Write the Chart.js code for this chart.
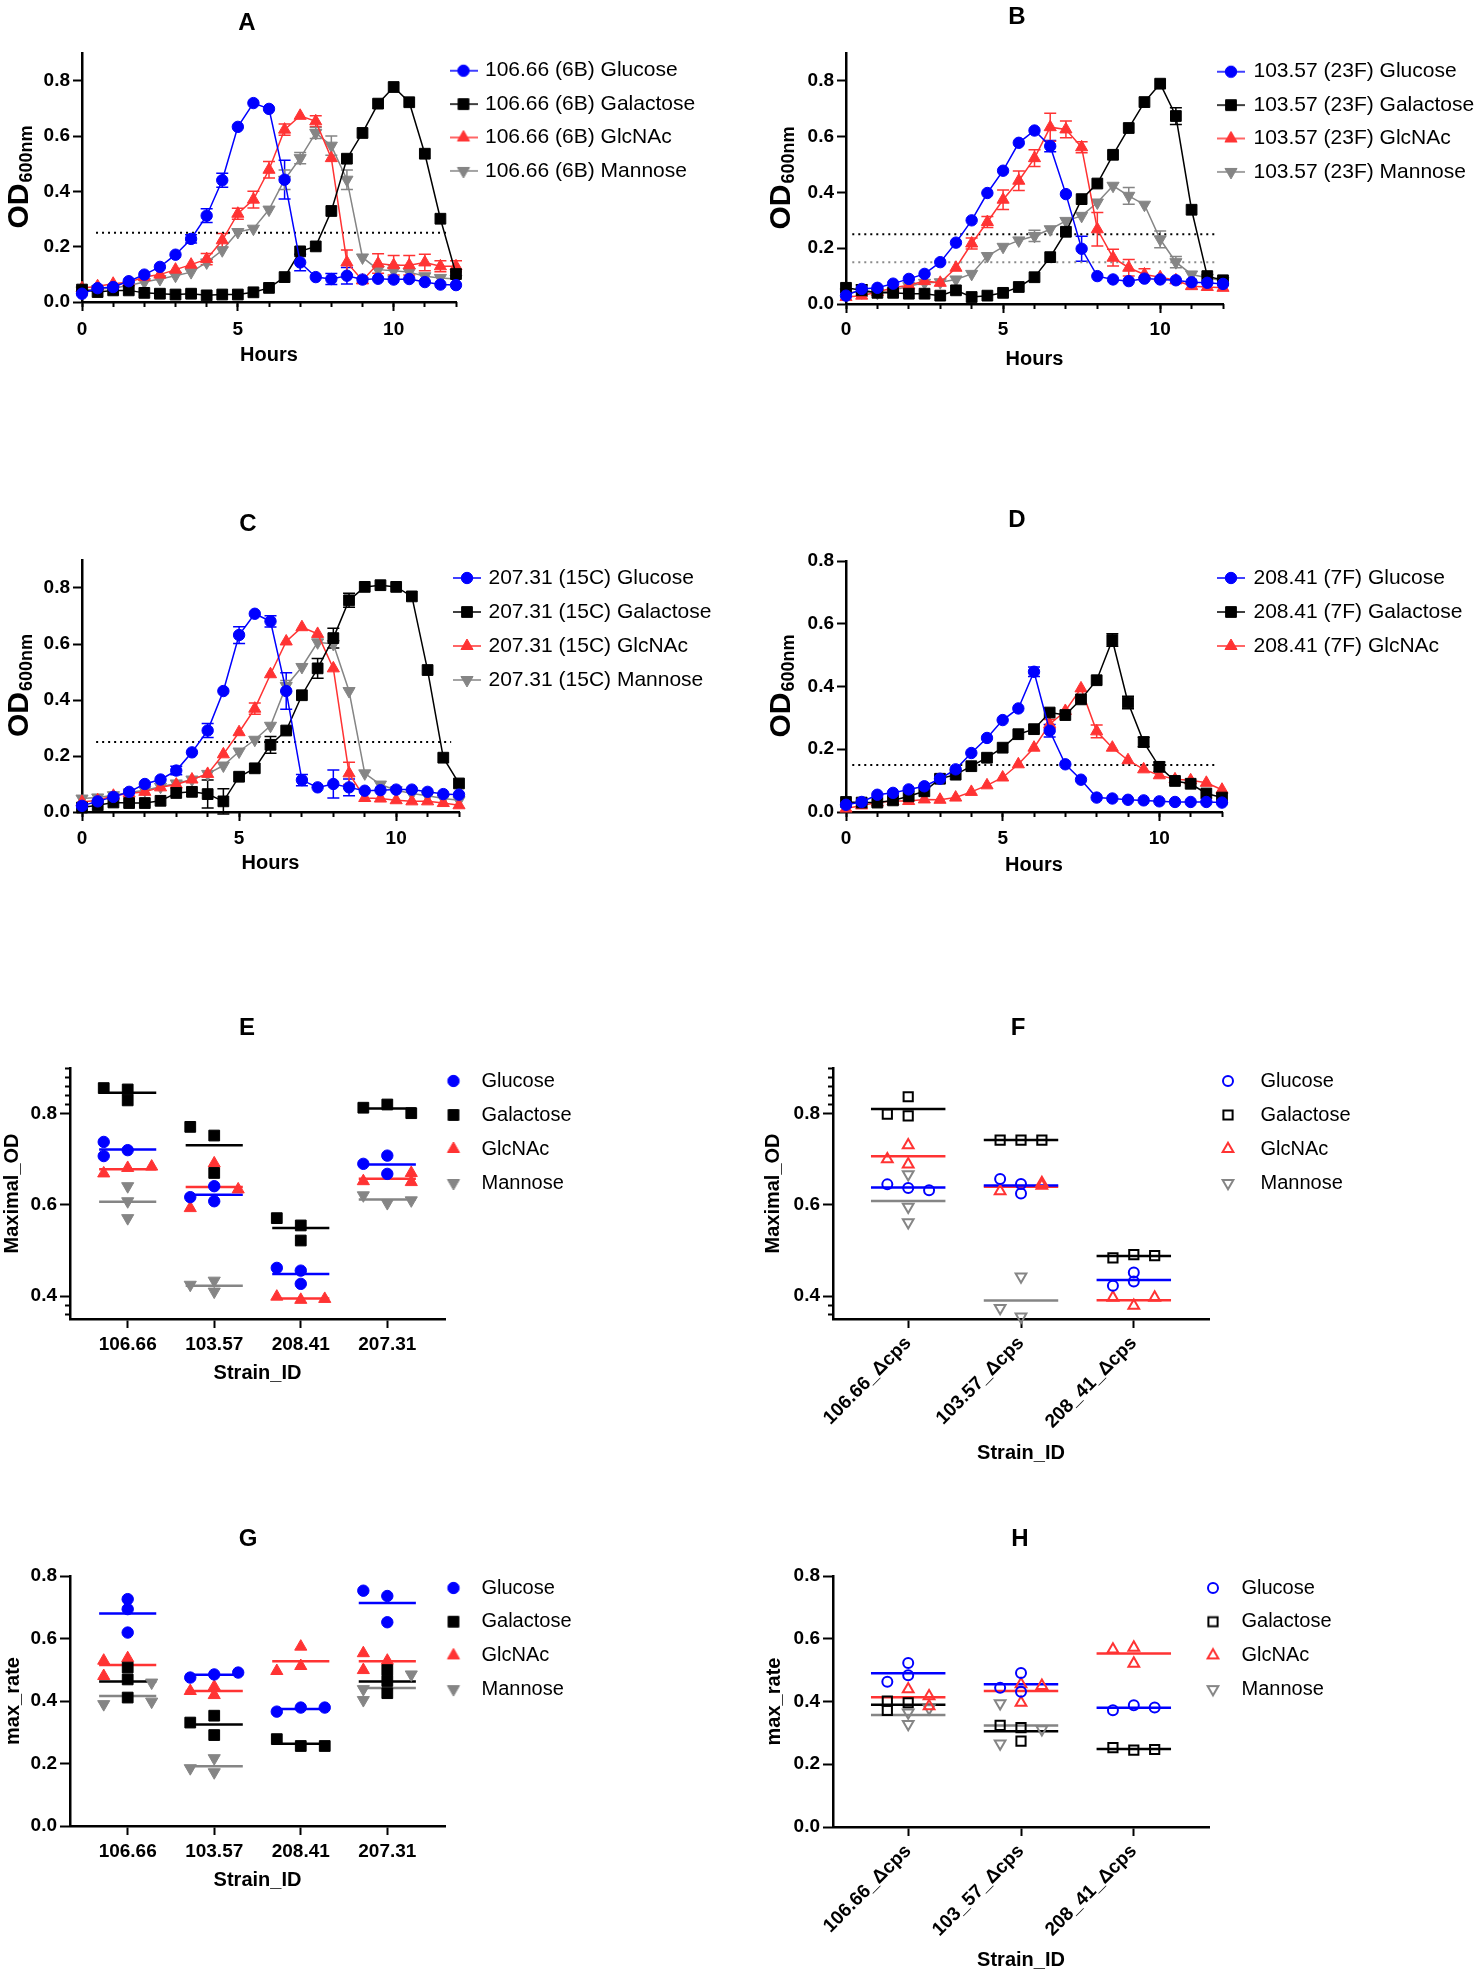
<!DOCTYPE html>
<html>
<head>
<meta charset="utf-8">
<title>Growth of strains on four sugars</title>
<script src="https://cdn.jsdelivr.net/npm/chart.js@4.4.1/dist/chart.umd.min.js"></script>
<style>
  html, body { margin:0; padding:0; background:#ffffff; }
  #page { position:relative; width:1476px; height:1975px; background:#ffffff; overflow:hidden; }
  #page canvas { position:absolute; }
  .panel-letter { position:absolute; font-family:"Liberation Sans", Arial, Helvetica, sans-serif; font-weight:bold; font-size:24px; color:#000; line-height:1; transform:translate(-50%,-50%); }
</style>
</head>
<body>
<div id="page"></div>
<script>
// ===================== DATA =====================
const hours = [0,0.5,1,1.5,2,2.5,3,3.5,4,4.5,5,5.5,6,6.5,7,7.5,8,8.5,9,9.5,10,10.5,11,11.5,12];
const sugarNames = ['Glucose','Galactose','GlcNAc','Mannose'];
const odLabel = ['OD','600nm'];
const hourMajorTicks = [0,5,10];
const hourMinorTicks = [0,1,2,3,4,5,6,7,8,9,10,11,12];
const odTicks = [0,0.2,0.4,0.6,0.8];

// Panel A
const strainA = '106.66 (6B)';
const A_glucose   = [0.030,0.050,0.054,0.075,0.099,0.127,0.171,0.228,0.312,0.440,0.633,0.719,0.698,0.442,0.143,0.090,0.083,0.095,0.081,0.084,0.081,0.083,0.072,0.063,0.061];
const A_galactose = [0.045,0.036,0.042,0.042,0.033,0.030,0.027,0.030,0.024,0.027,0.027,0.035,0.051,0.090,0.183,0.201,0.329,0.518,0.611,0.717,0.777,0.722,0.536,0.301,0.101];
const A_glcnac    = [0.050,0.057,0.066,0.071,0.090,0.099,0.117,0.135,0.155,0.223,0.319,0.370,0.478,0.623,0.673,0.653,0.520,0.143,0.078,0.139,0.133,0.133,0.143,0.129,0.129];
const A_mannose   = [0.042,0.047,0.050,0.060,0.072,0.083,0.095,0.108,0.143,0.187,0.253,0.265,0.334,0.442,0.520,0.611,0.565,0.442,0.161,0.117,0.113,0.108,0.093,0.087,0.083];
const A_glucose_err   = [0,0,0,0,0,0,0,0.015,0.025,0.025,0,0,0,0.07,0.03,0,0.02,0.03,0,0,0,0,0,0,0];
const A_galactose_err = [0,0,0,0,0,0,0,0,0,0,0,0,0,0,0,0,0,0,0,0,0,0,0,0,0];
const A_glcnac_err    = [0,0,0,0,0,0,0,0,0.02,0.025,0.02,0.03,0.03,0.02,0,0.02,0,0.045,0.01,0.035,0.035,0.035,0.03,0.02,0.02];
const A_mannose_err   = [0,0,0,0,0,0,0,0,0,0,0,0,0,0.035,0.02,0.02,0.035,0.035,0,0,0.02,0,0,0,0];
const A_thresholds = [0.25];
const A_thresholdSpan = [0.45, 11.75];

// Panel B
const strainB = '103.57 (23F)';
const B_glucose   = [0.030,0.054,0.058,0.073,0.090,0.108,0.150,0.220,0.300,0.398,0.478,0.578,0.622,0.566,0.394,0.198,0.100,0.088,0.082,0.091,0.088,0.085,0.078,0.076,0.072];
const B_galactose = [0.058,0.049,0.040,0.040,0.037,0.037,0.030,0.049,0.025,0.030,0.040,0.061,0.096,0.168,0.259,0.376,0.432,0.535,0.631,0.724,0.790,0.674,0.338,0.100,0.085];
const B_glcnac    = [0.025,0.030,0.043,0.058,0.067,0.082,0.076,0.130,0.217,0.294,0.374,0.442,0.523,0.634,0.626,0.562,0.268,0.166,0.130,0.106,0.096,0.085,0.064,0.061,0.058];
const B_mannose   = [0.042,0.042,0.040,0.049,0.064,0.076,0.078,0.088,0.108,0.172,0.205,0.228,0.244,0.268,0.298,0.316,0.364,0.424,0.388,0.356,0.232,0.150,0.106,0.094,0.082];
const B_glucose_err   = [0,0,0,0,0,0,0,0,0,0,0,0,0,0.02,0,0.045,0,0,0,0,0,0,0,0,0];
const B_galactose_err = [0,0.02,0,0,0,0,0,0,0,0,0,0,0,0,0,0,0,0,0,0,0,0.03,0,0,0];
const B_glcnac_err    = [0,0,0,0,0,0,0,0,0.02,0.02,0.035,0.035,0.03,0.05,0.03,0.02,0.06,0.03,0.03,0.02,0,0,0.01,0,0];
const B_mannose_err   = [0,0,0,0,0,0,0,0,0,0,0,0,0.02,0,0,0,0,0,0.03,0,0.03,0.02,0,0,0];
const B_thresholds = [0.25, 0.15];
const B_thresholdSpan = [0.2, 11.85];

// Panel C
const strainC = '207.31 (15C)';
const C_glucose   = [0.022,0.038,0.054,0.072,0.100,0.116,0.148,0.213,0.291,0.432,0.632,0.708,0.681,0.432,0.114,0.088,0.100,0.088,0.076,0.078,0.080,0.080,0.072,0.064,0.062];
const C_galactose = [0.016,0.024,0.034,0.032,0.032,0.040,0.068,0.072,0.064,0.038,0.126,0.156,0.240,0.291,0.417,0.513,0.621,0.756,0.804,0.810,0.804,0.770,0.507,0.194,0.102];
const C_glcnac    = [0.036,0.042,0.058,0.066,0.072,0.088,0.098,0.116,0.136,0.206,0.285,0.369,0.492,0.609,0.660,0.636,0.513,0.138,0.050,0.048,0.042,0.038,0.038,0.032,0.024];
const C_mannose   = [0.048,0.052,0.060,0.070,0.078,0.090,0.102,0.116,0.136,0.166,0.216,0.258,0.308,0.450,0.518,0.606,0.600,0.432,0.138,0.098,0.078,0.066,0.058,0.048,0.042];
const C_glucose_err   = [0,0,0,0,0,0,0.015,0,0.025,0,0.03,0,0.02,0.065,0.02,0,0.05,0.03,0,0,0,0,0,0,0];
const C_galactose_err = [0,0,0,0,0,0,0,0,0.05,0.045,0,0,0.03,0,0,0.035,0.035,0.025,0,0,0,0,0,0,0];
const C_glcnac_err    = [0,0,0,0,0,0,0,0,0,0,0,0.02,0,0,0,0,0,0.04,0,0,0,0,0,0,0];
const C_mannose_err   = [0,0,0,0,0,0,0,0,0,0,0,0,0,0.02,0,0,0,0,0,0,0,0,0,0,0];
const C_thresholds = [0.25];
const C_thresholdSpan = [0.45, 11.75];

// Panel D
const strainD = '208.41 (7F)';
const D_glucose   = [0.023,0.032,0.055,0.061,0.072,0.082,0.106,0.136,0.188,0.236,0.293,0.330,0.447,0.259,0.152,0.103,0.046,0.043,0.039,0.037,0.034,0.032,0.032,0.032,0.030];
const D_galactose = [0.032,0.030,0.030,0.037,0.050,0.066,0.106,0.119,0.146,0.173,0.205,0.248,0.264,0.317,0.309,0.359,0.420,0.548,0.349,0.223,0.144,0.099,0.090,0.059,0.046];
const D_glcnac    = [0.011,0.021,0.030,0.035,0.035,0.040,0.039,0.046,0.064,0.085,0.110,0.152,0.205,0.280,0.322,0.394,0.257,0.205,0.165,0.136,0.117,0.104,0.101,0.093,0.071];
const D_glucose_err   = [0,0,0,0,0,0,0,0,0,0,0,0,0.015,0.02,0,0,0,0,0,0,0,0,0,0,0];
const D_galactose_err = [0,0,0,0,0,0,0,0,0,0,0,0,0,0,0,0,0,0.02,0.02,0.015,0.015,0,0,0,0];
const D_glcnac_err    = [0,0,0,0,0,0,0,0,0,0,0,0,0,0.015,0,0,0.02,0,0,0,0,0,0,0,0];
const D_thresholds = [0.15];
const D_thresholdSpan = [0.2, 11.85];

// Panel E (Maximal_OD, wild type)
const strainsE = ['106.66','103.57','208.41','207.31'];
const E_glucose   = [[0.720,0.738,0.707],[0.608,0.641,0.617],[0.456,0.462,0.427],[0.708,0.668,0.690]];
const E_galactose = [[0.853,0.829,0.856],[0.752,0.771,0.670],[0.555,0.571,0.522],[0.820,0.813,0.801]];
const E_glcnac    = [[0.681,0.669,0.684],[0.593,0.634,0.691],[0.392,0.399,0.394],[0.670,0.652,0.650]];
const E_mannose   = [[0.641,0.608,0.571],[0.410,0.434,0.425],[],[0.604,0.621,0.610]];

// Panel F (Maximal_OD, Δcps)
const strainsF = ['106.66_Δcps','103.57_Δcps','208_41_Δcps'];
const F_glucose   = [[0.637,0.645,0.632],[0.646,0.657,0.625],[0.432,0.452,0.423]];
const F_galactose = [[0.837,0.795,0.799],[0.742,0.742,0.742],[0.491,0.484,0.489]];
const F_glcnac    = [[0.731,0.689,0.700],[0.630,0.648,0.642],[0.379,0.397,0.397]];
const F_mannose   = [[0.667,0.596,0.562],[0.443,0.355,0.374],[]];

// Panel G (max_rate, wild type)
const strainsG = ['106.66','103.57','208.41','207.31'];
const G_glucose   = [[0.726,0.694,0.619],[0.485,0.475,0.491],[0.379,0.366,0.379],[0.736,0.753,0.652]];
const G_galactose = [[0.507,0.469,0.411],[0.353,0.291,0.331],[0.256,0.278,0.256],[0.499,0.464,0.425]];
const G_glcnac    = [[0.529,0.537,0.480],[0.446,0.419,0.432],[0.512,0.574,0.496],[0.529,0.553,0.499]];
const G_mannose   = [[0.390,0.459,0.398],[0.172,0.217,0.185],[],[0.485,0.438,0.403]];

// Panel H (max_rate, Δcps)
const strainsH = ['106.66_Δcps','103_57_Δcps','208_41_Δcps'];
const H_glucose   = [[0.484,0.523,0.463],[0.491,0.431,0.444],[0.388,0.372,0.381]];
const H_galactose = [[0.396,0.372,0.401],[0.317,0.324,0.274],[0.245,0.253,0.247]];
const H_glcnac    = [[0.417,0.439,0.385],[0.450,0.455,0.396],[0.572,0.566,0.521]];
const H_mannose   = [[0.328,0.365,0.378],[0.266,0.394,0.311],[]];

const scatterMajorEF = [0.4,0.6,0.8];
const scatterMinorEF = [0.36,0.38,0.82,0.84,0.86,0.88,0.9];
const scatterMajorGH = [0,0.2,0.4,0.6,0.8];

// ===================== STYLE =====================
const FONT = '"Liberation Sans", Arial, Helvetica, sans-serif';
Chart.defaults.font.family = FONT;
Chart.defaults.color = '#000000';
const COLORS = ['#0000FF', '#000000', '#FF3333', '#858585'];
const SHAPES = ['circle', 'rect', 'triangle', 'triangle'];
const ROTS = [0, 0, 0, 180];
const SOLID_R = [5.7, 7.6, 7, 7];
const OPEN_R = [5, 6.5, 6.2, 6.2];
const TICK_FONT = { family: FONT, size: 19, weight: 'bold', lineHeight: 1.2 };
const TITLE_FONT = { family: FONT, size: 20, weight: 'bold', lineHeight: 1.2 };

function markerCanvas(i, open, withLine) {
  const w = withLine ? 28 : 18, h = 18;
  const c = document.createElement('canvas');
  c.width = w; c.height = h;
  const g = c.getContext('2d');
  if (withLine) {
    g.strokeStyle = COLORS[i]; g.lineWidth = 1.5;
    g.beginPath(); g.moveTo(0, h / 2); g.lineTo(w, h / 2); g.stroke();
  }
  g.fillStyle = open ? 'rgba(0,0,0,0)' : COLORS[i];
  g.strokeStyle = COLORS[i];
  g.lineWidth = open ? 2 : 1;
  Chart.helpers.drawPoint(g, { pointStyle: SHAPES[i], radius: open ? OPEN_R[i] : SOLID_R[i], rotation: ROTS[i], borderWidth: g.lineWidth }, w / 2, h / 2);
  return c;
}

function makeCanvas(box) {
  const c = document.createElement('canvas');
  c.width = box.w; c.height = box.h;
  c.style.left = box.x + 'px'; c.style.top = box.y + 'px';
  c.style.width = box.w + 'px'; c.style.height = box.h + 'px';
  document.getElementById('page').appendChild(c);
  return c;
}

function tickGrid(len) {
  return { display: true, drawOnChartArea: false, drawTicks: true, tickLength: len, tickWidth: 2, tickColor: '#000' };
}
function axisBorder() { return { display: true, color: '#000', width: 2.5 }; }

// ===================== PLUGINS =====================
const errorBars = {
  id: 'errorBars',
  beforeDatasetsDraw(chart) {
    const ctx = chart.ctx;
    chart.data.datasets.forEach((ds, i) => {
      if (!ds.errors) return;
      const meta = chart.getDatasetMeta(i);
      const ys = chart.scales[meta.yAxisID];
      ctx.save();
      ctx.strokeStyle = ds.borderColor; ctx.lineWidth = 1.5;
      meta.data.forEach((el, j) => {
        const e = ds.errors[j];
        if (!e) return;
        const v = ds.data[j].y;
        const yt = ys.getPixelForValue(v + e), yb = ys.getPixelForValue(v - e);
        ctx.beginPath();
        ctx.moveTo(el.x, yt); ctx.lineTo(el.x, yb);
        ctx.moveTo(el.x - 6, yt); ctx.lineTo(el.x + 6, yt);
        ctx.moveTo(el.x - 6, yb); ctx.lineTo(el.x + 6, yb);
        ctx.stroke();
      });
      ctx.restore();
    });
  }
};

const odTitle = {
  id: 'odTitle',
  afterDraw(chart, args, opts) {
    if (opts.baseline === undefined) return;
    const { ctx, chartArea } = chart;
    const cy = (chartArea.top + chartArea.bottom) / 2;
    ctx.save();
    ctx.translate(opts.baseline, cy);
    ctx.rotate(-Math.PI / 2);
    ctx.fillStyle = '#000'; ctx.textAlign = 'left'; ctx.textBaseline = 'alphabetic';
    const big = 'bold 30px ' + FONT, small = 'bold 18px ' + FONT;
    ctx.font = big; const w1 = ctx.measureText(opts.main).width;
    ctx.font = small; const w2 = ctx.measureText(opts.sub).width;
    const x0 = -(w1 + w2) / 2;
    ctx.font = big; ctx.fillText(opts.main, x0, 0);
    ctx.font = small; ctx.fillText(opts.sub, x0 + w1 + 1, 4);
    ctx.restore();
  }
};

const legendPlace = {
  id: 'legendPlace',
  beforeDraw(chart, args, opts) {
    const lg = chart.legend;
    if (!lg || opts.left === undefined) return;
    lg.left = opts.left; lg.top = opts.top;
    lg.right = chart.width; lg.bottom = chart.height;
    lg.width = lg.right - lg.left; lg.height = lg.bottom - lg.top;
  }
};
Chart.register(errorBars, odTitle, legendPlace);

function legendOptions(leg, open, withLine) {
  return {
    display: true, position: 'chartArea', align: 'start',
    labels: {
      usePointStyle: true, pointStyleWidth: leg.w, padding: leg.gap - leg.fs, color: '#000',
      font: { family: FONT, size: leg.fs, weight: 'normal', lineHeight: 1.2 },
      generateLabels: chart => chart.data.datasets
        .map((d, idx) => ({ d, idx }))
        .filter(o => o.d.sugar !== undefined && !o.d.isMean)
        .map(o => ({
          text: o.d.label, pointStyle: markerCanvas(o.d.sugar, open, withLine),
          fillStyle: COLORS[o.d.sugar], strokeStyle: COLORS[o.d.sugar], fontColor: '#000',
          lineWidth: 0, hidden: false, rotation: 0, textAlign: 'left', datasetIndex: o.idx
        }))
    }
  };
}
function legendPosition(leg, box) {
  const pad = leg.gap - leg.fs;
  return { left: leg.cx - pad - leg.w / 2 - box.x, top: leg.row0 - pad - leg.fs / 2 - box.y };
}

// ===================== GROWTH CURVES (A-D) =====================
function growthChart(p) {
  const { box, area } = p;
  const cv = makeCanvas(box);
  const datasets = p.series.map((vals, i) => ({
    label: p.strain + ' ' + sugarNames[i], sugar: i, xAxisID: 'x', yAxisID: 'y',
    data: hours.map((h, j) => ({ x: h, y: vals[j] })),
    errors: p.errs[i],
    borderColor: COLORS[i], backgroundColor: COLORS[i], borderWidth: 1.5,
    pointStyle: SHAPES[i], pointRotation: ROTS[i], pointRadius: SOLID_R[i],
    pointBackgroundColor: COLORS[i], pointBorderColor: COLORS[i], pointBorderWidth: 1,
    tension: 0, fill: false, clip: false, order: i
  }));
  p.thresholds.forEach((t, k) => datasets.push({
    label: 'threshold', xAxisID: 'x', yAxisID: 'y',
    data: [{ x: p.span[0], y: t }, { x: p.span[1], y: t }],
    borderColor: p.thrColors[k], borderWidth: 2, borderDash: [2, 4], pointRadius: 0, fill: false, clip: false, order: 20
  }));
  new Chart(cv, {
    type: 'line',
    data: { datasets },
    options: {
      responsive: false, maintainAspectRatio: false, animation: false, events: [],
      layout: { padding: { left: 0, top: area.t - box.y, right: box.x + box.w - area.r, bottom: 0 } },
      plugins: {
        legend: legendOptions(p.leg, false, true),
        tooltip: { enabled: false },
        legendPlace: legendPosition(p.leg, box),
        odTitle: { baseline: p.od - box.x, main: odLabel[0], sub: odLabel[1] }
      },
      scales: {
        x: {
          type: 'linear', position: 'bottom', weight: 1, bounds: 'data', min: 0, max: 12,
          afterFit: s => { s.height = box.y + box.h - area.b; },
          afterBuildTicks: a => { a.ticks = hourMajorTicks.map(v => ({ value: v })); },
          ticks: { autoSkip: false, maxRotation: 0, minRotation: 0, padding: p.tickPad, color: '#000', font: TICK_FONT, callback: v => String(v) },
          grid: tickGrid(9), border: axisBorder(),
          title: { display: true, text: 'Hours', color: '#000', font: TITLE_FONT, padding: { top: 0, bottom: p.hoursPad } }
        },
        xm: {
          type: 'linear', position: 'bottom', weight: 0, bounds: 'data', min: 0, max: 12,
          afterFit: s => { s.height = 0; },
          afterBuildTicks: a => { a.ticks = hourMinorTicks.map(v => ({ value: v })); },
          ticks: { display: false }, grid: tickGrid(5), border: { display: false }
        },
        y: {
          type: 'linear', position: 'left', weight: 1, bounds: 'data', min: 0, max: p.yMax,
          afterFit: s => { s.width = area.l - box.x; },
          afterBuildTicks: a => { a.ticks = odTicks.map(v => ({ value: v })); },
          ticks: { padding: 3, color: '#000', font: TICK_FONT, callback: v => Number(v).toFixed(1) },
          grid: tickGrid(9), border: axisBorder()
        }
      }
    }
  });
}

growthChart({
  box: { x: 0, y: 0, w: 738, h: 380 }, area: { l: 82, t: 53, r: 456, b: 302 },
  strain: strainA, series: [A_glucose, A_galactose, A_glcnac, A_mannose],
  errs: [A_glucose_err, A_galactose_err, A_glcnac_err, A_mannose_err],
  yMax: 0.9, thresholds: A_thresholds, thrColors: ['#000'], span: A_thresholdSpan,
  leg: { cx: 463.5, row0: 70.7, gap: 33.4, w: 22, fs: 21 }, hoursPad: 13, tickPad: 7, od: 28
});
growthChart({
  box: { x: 738, y: 0, w: 738, h: 380 }, area: { l: 846, t: 53, r: 1223, b: 304 },
  strain: strainB, series: [B_glucose, B_galactose, B_glcnac, B_mannose],
  errs: [B_glucose_err, B_galactose_err, B_glcnac_err, B_mannose_err],
  yMax: 0.9, thresholds: B_thresholds, thrColors: ['#000', '#8a8a8a'], span: B_thresholdSpan,
  leg: { cx: 1231, row0: 71.7, gap: 33.4, w: 24, fs: 21 }, hoursPad: 9, tickPad: 5, od: 790
});
growthChart({
  box: { x: 0, y: 500, w: 738, h: 380 }, area: { l: 82, t: 560, r: 459, b: 812 },
  strain: strainC, series: [C_glucose, C_galactose, C_glcnac, C_mannose],
  errs: [C_glucose_err, C_galactose_err, C_glcnac_err, C_mannose_err],
  yMax: 0.9, thresholds: C_thresholds, thrColors: ['#000'], span: C_thresholdSpan,
  leg: { cx: 467, row0: 578, gap: 34, w: 22, fs: 21 }, hoursPad: 5, tickPad: 6, od: 28
});
growthChart({
  box: { x: 738, y: 500, w: 738, h: 380 }, area: { l: 846, t: 561, r: 1222, b: 812 },
  strain: strainD, series: [D_glucose, D_galactose, D_glcnac],
  errs: [D_glucose_err, D_galactose_err, D_glcnac_err],
  yMax: 0.8, thresholds: D_thresholds, thrColors: ['#000'], span: D_thresholdSpan,
  leg: { cx: 1231, row0: 578, gap: 34, w: 24, fs: 21 }, hoursPad: 3, tickPad: 6, od: 790
});

// ===================== SCATTER PANELS (E-H) =====================
function scatterChart(p) {
  const { box, area, strains } = p;
  const cv = makeCanvas(box);
  const placed = strains.map(() => []);
  const SLOTS = [0, -1, 1, -0.5, 0.5];
  const conflicts = (ci, s, v) => placed[ci].filter(q => Math.abs(q.slot - s) < 0.99 && Math.abs(q.v - v) < p.dy).length;
  const pointSets = [], meanSets = [];
  p.series.forEach((groups, si) => {
    const pts = [], means = [];
    groups.forEach((reps, ci) => {
      if (!reps.length) return;
      reps.forEach(v => {
        let slot = SLOTS.find(s => conflicts(ci, s, v) === 0);
        if (slot === undefined) {
          slot = SLOTS.reduce((best, s) => conflicts(ci, s, v) < conflicts(ci, best, v) ? s : best, 0);
        }
        placed[ci].push({ slot, v });
        pts.push({ x: ci + 1 + slot * p.step, y: v });
      });
      const m = reps.reduce((a, b) => a + b, 0) / reps.length;
      means.push({ x: ci + 1 - 0.33, y: m }, { x: ci + 1 + 0.33, y: m }, { x: ci + 1.5, y: null });
    });
    pointSets.push({
      type: 'scatter', label: sugarNames[si], sugar: si, xAxisID: 'x', yAxisID: 'y', data: pts,
      pointStyle: SHAPES[si], pointRotation: ROTS[si], pointRadius: p.open ? OPEN_R[si] : SOLID_R[si],
      pointBackgroundColor: p.open ? 'rgba(0,0,0,0)' : COLORS[si], pointBorderColor: COLORS[si],
      pointBorderWidth: p.open ? 2 : 1, borderColor: COLORS[si], backgroundColor: COLORS[si],
      showLine: false, clip: false, order: si
    });
    meanSets.push({
      type: 'line', label: sugarNames[si] + ' mean', sugar: si, isMean: true, xAxisID: 'x', yAxisID: 'y', data: means,
      borderColor: COLORS[si], borderWidth: 2.5, pointRadius: 0, spanGaps: false, fill: false, clip: false, order: 10 + si
    });
  });
  const scales = {
    x: {
      type: 'linear', position: 'bottom', weight: 1, bounds: 'data', min: 1 - 2 / 3, max: strains.length + 2 / 3,
      afterFit: s => { s.height = box.y + box.h - area.b; },
      afterBuildTicks: a => { a.ticks = strains.map((s, i) => ({ value: i + 1 })); },
      ticks: { autoSkip: false, maxRotation: p.rot, minRotation: p.rot, padding: p.labelPad, color: '#000', font: TICK_FONT, callback: v => strains[Math.round(v) - 1] },
      grid: tickGrid(9), border: axisBorder(),
      title: { display: true, text: 'Strain_ID', color: '#000', font: TITLE_FONT, padding: { top: 0, bottom: p.titlePad } }
    },
    y: {
      type: 'linear', position: 'left', weight: 1, bounds: 'data', min: p.yMin, max: p.yMax,
      afterFit: s => { s.width = area.l - box.x; },
      afterBuildTicks: a => { a.ticks = p.major.map(v => ({ value: v })); },
      ticks: { padding: 3, color: '#000', font: TICK_FONT, callback: v => Number(v).toFixed(1) },
      grid: tickGrid(10), border: axisBorder(),
      title: { display: true, text: p.yTitle, color: '#000', font: TITLE_FONT, padding: { top: p.yTitlePad, bottom: 0 } }
    }
  };
  if (p.minor) {
    scales.ym = {
      type: 'linear', position: 'left', weight: 0, bounds: 'data', min: p.yMin, max: p.yMax,
      afterFit: s => { s.width = 0; },
      afterBuildTicks: a => { a.ticks = p.minor.map(v => ({ value: v })); },
      ticks: { display: false }, grid: tickGrid(5), border: { display: false }
    };
  }
  new Chart(cv, {
    type: 'scatter',
    data: { datasets: pointSets.concat(meanSets) },
    options: {
      responsive: false, maintainAspectRatio: false, animation: false, events: [],
      layout: { padding: { left: 0, top: area.t - box.y, right: box.x + box.w - area.r, bottom: 0 } },
      plugins: {
        legend: legendOptions(p.leg, p.open, false),
        tooltip: { enabled: false },
        legendPlace: legendPosition(p.leg, box)
      },
      scales
    }
  });
}

scatterChart({
  box: { x: 0, y: 1000, w: 738, h: 400 }, area: { l: 70, t: 1068, r: 445, b: 1319 },
  strains: strainsE, series: [E_glucose, E_galactose, E_glcnac, E_mannose], open: false,
  yMin: 0.35, yMax: 0.9, major: scatterMajorEF, minor: scatterMinorEF, yTitle: 'Maximal_OD', yTitlePad: 0,
  rot: 0, labelPad: 5, titlePad: 15, step: 0.277, dy: 0.02,
  leg: { cx: 453.5, row0: 1081, gap: 34, w: 36, fs: 20 }
});
scatterChart({
  box: { x: 738, y: 1000, w: 738, h: 480 }, area: { l: 833, t: 1068, r: 1209, b: 1319 },
  strains: strainsF, series: [F_glucose, F_galactose, F_glcnac, F_mannose], open: true,
  yMin: 0.35, yMax: 0.9, major: scatterMajorEF, minor: scatterMinorEF, yTitle: 'Maximal_OD', yTitlePad: 23,
  rot: 45, labelPad: 4, titlePad: 15, step: 0.185, dy: 0.02,
  leg: { cx: 1228, row0: 1081, gap: 34, w: 45, fs: 20 }
});
scatterChart({
  box: { x: 0, y: 1500, w: 738, h: 420 }, area: { l: 70, t: 1576, r: 445, b: 1826 },
  strains: strainsG, series: [G_glucose, G_galactose, G_glcnac, G_mannose], open: false,
  yMin: 0, yMax: 0.8, major: scatterMajorGH, minor: null, yTitle: 'max_rate', yTitlePad: 1,
  rot: 0, labelPad: 5, titlePad: 28, step: 0.277, dy: 0.027,
  leg: { cx: 453.5, row0: 1588, gap: 33.7, w: 36, fs: 20 }
});
scatterChart({
  box: { x: 738, y: 1500, w: 738, h: 475 }, area: { l: 833, t: 1576, r: 1209, b: 1827 },
  strains: strainsH, series: [H_glucose, H_galactose, H_glcnac, H_mannose], open: true,
  yMin: 0, yMax: 0.8, major: scatterMajorGH, minor: null, yTitle: 'max_rate', yTitlePad: 24,
  rot: 45, labelPad: 4, titlePad: 3, step: 0.185, dy: 0.027,
  leg: { cx: 1213, row0: 1588, gap: 33.7, w: 37, fs: 20 }
});

// ===================== PANEL LETTERS =====================
const panelLetters = ['A','B','C','D','E','F','G','H'];
const letterPos = [[247,22],[1017,16],[248,523],[1017,519],[247,1027],[1018,1027],[248,1538],[1020,1538]];
panelLetters.forEach((t, i) => {
  const d = document.createElement('div');
  d.className = 'panel-letter';
  d.textContent = t;
  d.style.left = letterPos[i][0] + 'px';
  d.style.top = letterPos[i][1] + 'px';
  document.getElementById('page').appendChild(d);
});
</script>
</body>
</html>
